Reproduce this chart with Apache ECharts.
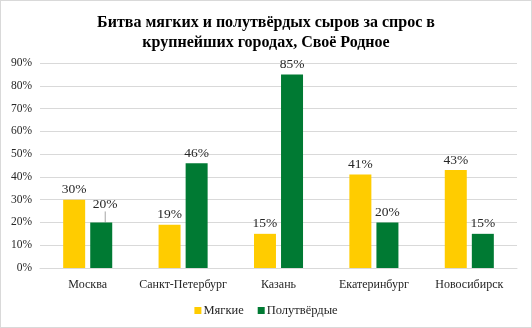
<!DOCTYPE html>
<html>
<head>
<meta charset="utf-8">
<script src="https://cdn.jsdelivr.net/npm/echarts@6/dist/echarts.min.js"></script>
<style>
  html, body { margin: 0; padding: 0; background: #fff; }
  #chart { width: 530px; height: 326px; border: 1px solid #d9d9d9; }
</style>
</head>
<body>
<div id="chart"></div>
<script>
// Cities and share of demand per cheese type (%)
const cities = ['Москва', 'Санкт-Петербург', 'Казань', 'Екатеринбург', 'Новосибирск'];
const softCheese = [30, 19, 15, 41, 43];
const semiHardCheese = [20, 46, 85, 20, 15];
const yTicks = [0, 10, 20, 30, 40, 50, 60, 70, 80, 90];

const serif = '"Liberation Serif", "Times New Roman", serif';
const chart = echarts.init(document.getElementById('chart'));

const labelStyle = {
  show: true,
  position: 'top',
  formatter: p => p.value + '%',
  fontFamily: serif,
  fontSize: 13.5,
  color: '#262626',
  distance: 3
};

// The first semi-hard label is lifted aside with a thin leader line
const semiHardData = semiHardCheese.map((v, i) => i === 0
  ? { value: v, labelLine: { show: true, lineStyle: { color: '#a6a6a6', width: 1 } } }
  : v);

chart.setOption({
  animation: false,
  title: {
    text: 'Битва мягких и полутвёрдых сыров за спрос в\nкрупнейших городах, Своё Родное',
    left: 'center',
    top: 7,
    textStyle: {
      fontFamily: serif,
      fontSize: 16,
      fontWeight: 'bold',
      color: '#000',
      lineHeight: 20
    }
  },
  legend: {
    bottom: 5,
    left: 'center',
    itemWidth: 7,
    itemHeight: 7,
    itemGap: 14,
    icon: 'rect',
    textStyle: { fontFamily: serif, fontSize: 12.5, color: '#262626', padding: [0, 0, 0, -3] },
    data: ['Мягкие', 'Полутвёрдые']
  },
  grid: { left: 39, right: 14, top: 62, bottom: 59 },
  xAxis: {
    type: 'category',
    data: cities,
    axisTick: { show: false },
    axisLine: { lineStyle: { color: '#d9d9d9' } },
    axisLabel: { interval: 0, fontFamily: serif, fontSize: 12, color: '#262626', margin: 11 }
  },
  yAxis: {
    type: 'value',
    min: yTicks[0],
    max: yTicks[yTicks.length - 1],
    interval: 10,
    axisLine: { show: false },
    axisTick: { show: false },
    splitLine: { lineStyle: { color: '#d9d9d9' } },
    axisLabel: { formatter: '{value}%', fontFamily: serif, fontSize: 11.5, color: '#262626', margin: 8 }
  },
  series: [
    {
      name: 'Мягкие',
      type: 'bar',
      data: softCheese,
      barWidth: 22,
      barGap: '23%',
      itemStyle: { color: '#FFCC00' },
      label: labelStyle
    },
    {
      name: 'Полутвёрдые',
      type: 'bar',
      data: semiHardData,
      barWidth: 22,
      itemStyle: { color: '#007A33' },
      label: labelStyle,
      labelLayout: function (params) {
        if (params.dataIndex === 0) {
          return { dx: 4, dy: -8 };
        }
      }
    }
  ]
});
</script>
</body>
</html>
